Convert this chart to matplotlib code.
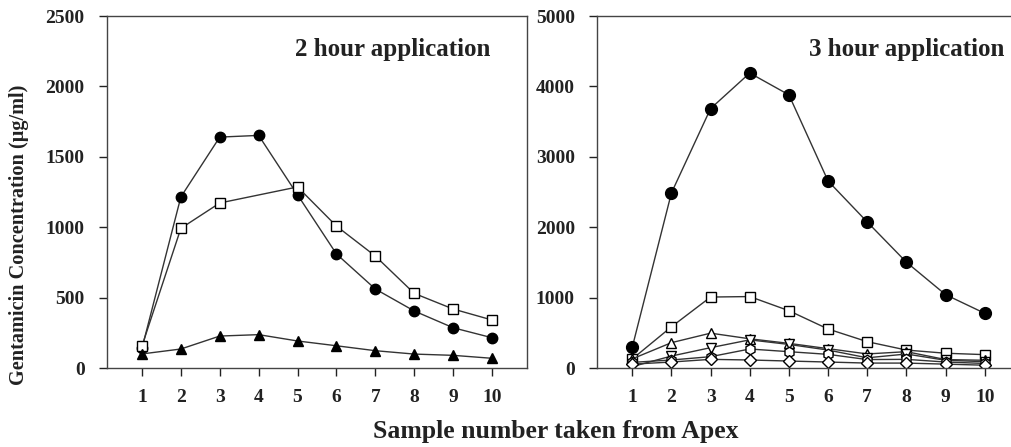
import numpy as np
import matplotlib
matplotlib.use("Agg")
import matplotlib.pyplot as plt

plt.rcParams['font.family'] = ['Liberation Serif', 'DejaVu Serif']
plt.rcParams['font.weight'] = 'bold'

# muestras tomadas desde el apex
muestras = np.arange(1, 11)

# panel 2 horas
h2_circulo = [140, 1215, 1640, 1652, 1230, 810, 561, 405, 286, 215]
h2_cuadro_x = [1, 2, 3, 5, 6, 7, 8, 9, 10]   # no hay dato en la muestra 4
h2_cuadro = [156, 992, 1172, 1286, 1008, 795, 530, 419, 341]
h2_triangulo = [100, 135, 227, 237, 192, 158, 123, 99, 90, 69]

# panel 3 horas
h3_circulo = [294, 2486, 3685, 4190, 3880, 2656, 2074, 1503, 1042, 777]
h3_cuadro = [128, 585, 1008, 1015, 814, 554, 374, 255, 210, 190]
h3_tri_arriba = [130, 360, 495, 415, 350, 275, 200, 232, 120, 110]
h3_tri_abajo = [20, 170, 289, 400, 335, 255, 145, 199, 110, 90]
h3_circ_abierto = [80, 114, 161, 270, 232, 194, 120, 123, 85, 65]
h3_diamante = [55, 85, 123, 114, 99, 85, 70, 70, 55, 40]

col_linea = '#333333'
ms = 7.5

fig = plt.figure(figsize=(10.11, 4.47), dpi=100)
ax1 = fig.add_axes([0.1058, 0.1767, 0.4155, 0.7875])
ax2 = fig.add_axes([0.5905, 0.1767, 0.4184, 0.7875])

def estilo(ax, ymax, paso, titulo, xt):
    ax.set_xlim(0.1, 10.9)
    ax.set_ylim(0, ymax)
    ax.set_xticks(muestras)
    ax.set_yticks(np.arange(0, ymax + 1, paso))
    ax.tick_params(direction='out', length=6, width=1, labelsize=14,
                   colors='#222222', top=False, right=False)
    ax.tick_params(axis='y', pad=10)
    ax.tick_params(axis='x', pad=9)
    for s in ax.spines.values():
        s.set_color('#444444')
        s.set_linewidth(1)
    for lab in ax.get_xticklabels() + ax.get_yticklabels():
        lab.set_fontweight('bold')
    ax.text(xt, 0.905, titulo, transform=ax.transAxes, ha='right', va='center',
            fontsize=18, fontweight='bold', color='#222222')

# 2 horas
ax1.plot(muestras, h2_circulo, '-o', color=col_linea, lw=1, ms=ms,
         mfc='black', mec='black')
ax1.plot(h2_cuadro_x, h2_cuadro, '-s', color=col_linea, lw=1, ms=ms,
         mfc='white', mec='black')
ax1.plot(muestras, h2_triangulo, '-^', color=col_linea, lw=1, ms=ms,
         mfc='black', mec='black')
estilo(ax1, 2500, 500, '2 hour application', 0.912)

# 3 horas
ax2.plot(muestras, h3_circulo, '-o', color=col_linea, lw=1, ms=ms + 1,
         mfc='black', mec='black')
ax2.plot(muestras, h3_cuadro, '-s', color=col_linea, lw=1, ms=ms,
         mfc='white', mec='black')
ax2.plot(muestras, h3_tri_arriba, '-^', color=col_linea, lw=1, ms=ms,
         mfc='white', mec='black')
ax2.plot(muestras, h3_tri_abajo, '-v', color=col_linea, lw=1, ms=ms,
         mfc='white', mec='black')
ax2.plot(muestras, h3_circ_abierto, '-h', color=col_linea, lw=1, ms=ms,
         mfc='white', mec='black')
ax2.plot(muestras, h3_diamante, '-D', color=col_linea, lw=1, ms=ms - 1,
         mfc='white', mec='black')
estilo(ax2, 5000, 1000, '3 hour application', 0.964)

fig.text(0.019, 0.475, 'Gentamicin Concentration (\u03bcg/ml)', rotation=90,
         ha='center', va='center', fontsize=14.6, fontweight='bold', color='#222222')
fig.text(0.55, 0.034, 'Sample number taken from Apex', ha='center', va='center',
         fontsize=18.5, fontweight='bold', color='#222222')

fig.savefig('out.png', dpi=100)
